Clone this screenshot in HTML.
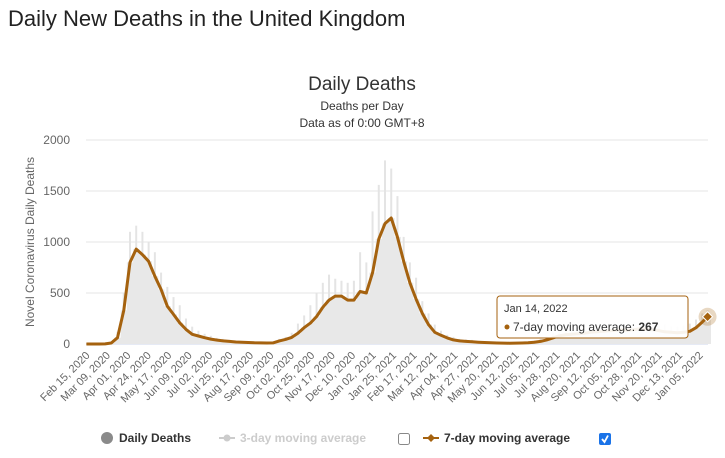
<!DOCTYPE html>
<html><head><meta charset="utf-8"><style>
body{margin:0;background:#fff;font-family:"Liberation Sans",sans-serif;}
#wrap{position:relative;width:725px;height:458px;overflow:hidden;}
h1{position:absolute;left:8px;top:6px;margin:0;font-size:22px;font-weight:normal;color:#222;}
</style></head><body>
<div id="wrap">
<h1>Daily New Deaths in the United Kingdom</h1>
<svg id="chart" width="725" height="458" style="position:absolute;left:0;top:0"></svg>
</div>
<script>
const startDate = [2020, 1, 15];
const weekDays = [0,7,14,21,28,35,42,49,56,63,70,77,84,91,98,105,112,119,126,133,140,147,154,161,168,175,182,189,196,203,210,217,224,231,238,245,252,259,266,273,280,287,294,301,308,315,322,329,336,343,350,357,364,371,378,385,392,399,406,413,420,427,434,441,448,455,462,469,476,483,490,497,504,511,518,525,532,539,546,553,560,567,574,581,588,595,602,609,616,623,630,637,644,651,658,665,672,679,686,693,699];
const avg7 = [0,0,0,1,10,62,330,800,930,876,811,664,534,371,290,208,143,95,78,62,48,38,30,25,20,18,15,12,11,10,11,30,45,65,105,160,205,270,360,430,470,470,430,430,515,500,700,1030,1180,1235,1050,810,600,440,300,190,115,85,60,40,30,25,22,18,15,12,10,9,8,9,10,12,18,25,40,60,80,90,95,100,105,115,120,125,130,135,140,135,140,150,145,140,130,120,115,110,115,125,160,215,267];
const dailyHigh = [0,0,0,3,25,120,500,1100,1160,1100,1000,900,700,560,460,380,250,170,130,100,80,60,50,40,35,30,25,22,20,20,25,50,70,110,200,280,380,500,600,680,640,620,600,620,900,800,1300,1560,1800,1720,1450,1050,800,650,420,300,190,130,90,70,50,45,40,30,25,20,18,16,15,18,22,25,35,50,80,110,130,145,150,160,170,180,190,195,200,205,210,200,210,220,215,210,200,190,175,170,180,200,240,300,330];
const yTicks = [0,500,1000,1500,2000];
const xLabels = ["Feb 15, 2020","Mar 09, 2020","Apr 01, 2020","Apr 24, 2020","May 17, 2020","Jun 09, 2020","Jul 02, 2020","Jul 25, 2020","Aug 17, 2020","Sep 09, 2020","Oct 02, 2020","Oct 25, 2020","Nov 17, 2020","Dec 10, 2020","Jan 02, 2021","Jan 25, 2021","Feb 17, 2021","Mar 12, 2021","Apr 04, 2021","Apr 27, 2021","May 20, 2021","Jun 12, 2021","Jul 05, 2021","Jul 28, 2021","Aug 20, 2021","Sep 12, 2021","Oct 05, 2021","Oct 28, 2021","Nov 20, 2021","Dec 13, 2021","Jan 05, 2022"];
const labelStep = 23;

const NS="http://www.w3.org/2000/svg";
const svg=document.getElementById('chart');
const L=86,R=708,T=140,B=344,nDays=700;
const xS=d=>L+(d+0.5)*(R-L)/nDays;
const yS=v=>B-v*(B-T)/2000;
function mk(tag,attrs,parent){const e=document.createElementNS(NS,tag);for(const k in attrs)e.setAttribute(k,attrs[k]);(parent||svg).appendChild(e);return e;}

let t=mk('text',{x:362,y:90,'text-anchor':'middle','font-size':19,fill:'#333'});t.textContent='Daily Deaths';


t=mk('text',{x:362,y:110,'text-anchor':'middle','font-size':12,fill:'#333'});t.textContent='Deaths per Day';


t=mk('text',{x:362,y:127,'text-anchor':'middle','font-size':12,fill:'#333'});t.textContent='Data as of 0:00 GMT+8';



yTicks.forEach(v=>{
  const g=mk('line',{x1:L,x2:R,y1:yS(v),y2:yS(v),stroke:v===0?'#ccd6eb':'#e6e6e6','stroke-width':1});
  
  
  const tx=mk('text',{x:70,y:yS(v)+4,'text-anchor':'end','font-size':12,fill:'#666'});tx.textContent=v;
  
  
});
t=mk('text',{x:0,y:0,'text-anchor':'middle','font-size':12,fill:'#666',transform:`translate(34,${(T+B)/2}) rotate(-90)`});t.textContent='Novel Coronavirus Daily Deaths';



const bw=7*(R-L)/nDays;
weekDays.forEach((d,i)=>{
  const h=dailyHigh[i];if(!h)return;
  const b=mk('rect',{x:xS(d)-1,y:yS(h),width:2,height:B-yS(h),fill:'#e4e4e4'});
  
  
  const core=avg7[i];
  const b2=mk('rect',{x:xS(d)-bw/2,y:yS(core),width:bw+0.3,height:B-yS(core),fill:'#e8e8e8'});
  
  
});

const p=weekDays.map((d,i)=>(i?'L':'M')+xS(d).toFixed(1)+','+yS(avg7[i]).toFixed(1)).join(' ');
const ln=mk('path',{d:p,fill:'none',stroke:'#a5620f','stroke-width':3,'stroke-linejoin':'round'});



xLabels.forEach((s,i)=>{
  const x=xS(i*labelStep);
  const tx=mk('text',{x:0,y:0,'text-anchor':'end','font-size':11,fill:'#666',transform:`translate(${x+4},${B+12}) rotate(-45)`});tx.textContent=s;
  
  
});

const last=weekDays.length-1;
const mx=xS(weekDays[last]),my=yS(avg7[last]);
const halo=mk('circle',{cx:mx,cy:my,r:9,fill:'#a5620f','fill-opacity':0.25});


const dm=mk('path',{d:`M${mx},${my-5}L${mx+5},${my}L${mx},${my+5}L${mx-5},${my}Z`,fill:'#a5620f',stroke:'#fff','stroke-width':1});


const tg=mk('g',{});


mk('rect',{x:497,y:296,width:191,height:42,rx:3,fill:'#fff','fill-opacity':0.92,stroke:'#a5620f','stroke-width':1},tg);
t=mk('text',{x:504,y:312,'font-size':11,fill:'#333'},tg);t.textContent='Jan 14, 2022';
mk('circle',{cx:507,cy:327,r:2.5,fill:'#a5620f'},tg);
t=mk('text',{x:513,y:331,'font-size':12,fill:'#333'},tg);t.innerHTML='7-day moving average: <tspan font-weight="bold">'+avg7[last]+'</tspan>';

let e=mk('circle',{cx:107,cy:438,r:6,fill:'#8a8a8a'});


t=mk('text',{x:119,y:442,'font-size':12,'font-weight':'bold',fill:'#333'});t.textContent='Daily Deaths';


mk('line',{x1:219,x2:235,y1:438,y2:438,stroke:'#ccc','stroke-width':2});
mk('circle',{cx:227,cy:438,r:3.5,fill:'#ccc'});
t=mk('text',{x:240,y:442,'font-size':12,'font-weight':'bold',fill:'#ccc'});t.textContent='3-day moving average';


e=mk('rect',{x:398.5,y:433.5,width:11,height:11,rx:2,fill:'#fff',stroke:'#888'});


mk('line',{x1:423,x2:439,y1:438,y2:438,stroke:'#a5620f','stroke-width':2});
mk('path',{d:'M431,434L435,438L431,442L427,438Z',fill:'#a5620f'});
t=mk('text',{x:444,y:442,'font-size':12,'font-weight':'bold',fill:'#333'});t.textContent='7-day moving average';


e=mk('rect',{x:599,y:433,width:12,height:12,rx:2,fill:'#1a73e8'});


mk('path',{d:'M602,439L604.5,442L608,435.5',fill:'none',stroke:'#fff','stroke-width':1.8});
</script>
</body></html>
